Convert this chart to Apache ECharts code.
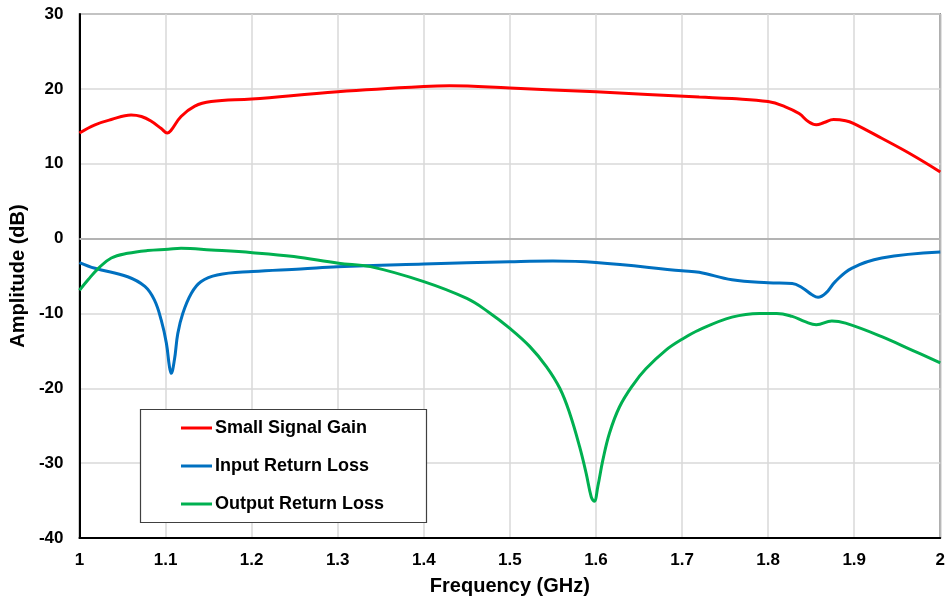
<!DOCTYPE html>
<html>
<head>
<meta charset="utf-8">
<script src="https://cdn.jsdelivr.net/npm/echarts@6/dist/echarts.min.js"></script>
<style>html,body{margin:0;padding:0;background:#fff}#c{width:948px;height:603px}</style>
</head>
<body>
<div id="c"></div>
<script>
var xTicks = [1, 1.1, 1.2, 1.3, 1.4, 1.5, 1.6, 1.7, 1.8, 1.9, 2];
var yTicks = [-40, -30, -20, -10, 0, 10, 20, 30];

var gainFreq = [1.0,1.018,1.037,1.06,1.072,1.083,1.095,1.102,1.106,1.118,1.134,1.153,1.2,1.3,1.4,1.43,1.5,1.6,1.72,1.758,1.8,1.82,1.836,1.847,1.856,1.865,1.876,1.89,1.899,1.932,1.967,2.0];
var gainVals = [14.1,15.2,15.9,16.5,16.3,15.7,14.7,14.1,14.4,16.3,17.7,18.3,18.65,19.6,20.3,20.4,20.1,19.6,18.9,18.7,18.3,17.6,16.7,15.6,15.2,15.5,15.9,15.75,15.4,13.4,11.2,8.9];

var inFreq = [1.0,1.018,1.056,1.076,1.087,1.095,1.101,1.1045,1.1065,1.1103,1.1142,1.12,1.13,1.141,1.16,1.201,1.257,1.3,1.4,1.5,1.55,1.6,1.7,1.72,1.758,1.8,1.828,1.84,1.851,1.858,1.867,1.878,1.897,1.932,2.0];
var inVals = [-3.2,-3.97,-5.1,-6.4,-8.2,-10.9,-14.0,-17.1,-18.0,-16.2,-12.7,-10.0,-7.3,-5.76,-4.86,-4.4,-4.06,-3.75,-3.4,-3.1,-3.0,-3.2,-4.3,-4.5,-5.5,-5.9,-6.0,-6.6,-7.5,-7.85,-7.3,-5.75,-3.97,-2.6,-1.8];

var outFreq = [1.0,1.01,1.022,1.037,1.056,1.079,1.103,1.118,1.153,1.201,1.249,1.301,1.338,1.4,1.45,1.475,1.5,1.523,1.5424,1.558,1.5694,1.581,1.5887,1.5945,1.598,1.6022,1.608,1.6157,1.6273,1.6427,1.658,1.6813,1.7,1.72,1.758,1.79,1.81,1.828,1.843,1.856,1.874,1.89,1.932,1.967,2.0];
var outVals = [-6.9,-5.5,-3.97,-2.6,-1.97,-1.6,-1.43,-1.3,-1.52,-1.88,-2.4,-3.3,-3.75,-5.75,-8.0,-9.8,-12.0,-14.4,-17.1,-20.0,-23.3,-27.8,-31.4,-34.5,-35.1,-33.1,-29.6,-26.0,-22.5,-19.6,-17.4,-14.9,-13.45,-12.2,-10.5,-10.0,-10.0,-10.4,-11.1,-11.5,-11.0,-11.3,-13.1,-14.9,-16.6];

var seriesNames = ['Small Signal Gain', 'Input Return Loss', 'Output Return Loss'];

function pairs(f, v) { return f.map(function (x, i) { return [x, v[i]]; }); }

var FONT = 'Liberation Sans, Arial, sans-serif';
var chart = echarts.init(document.getElementById('c'), null, { renderer: 'canvas' });

function mkSeries(name, f, v, color, extra) {
  var s = {
    name: name, type: 'line', data: pairs(f, v), smooth: 0.4,
    symbol: 'none', showSymbol: false,
    lineStyle: { color: color, width: 3 }, itemStyle: { color: color },
    z: 2, animation: false
  };
  if (extra) Object.assign(s, extra);
  return s;
}

chart.setOption({
  backgroundColor: '#fff',
  animation: false,
  grid: { left: 79, right: 6, top: 14, bottom: 65, show: true, borderColor: '#5a5a5a', borderWidth: 1.5, containLabel: false },
  xAxis: {
    type: 'value', min: 1, max: 2, interval: 0.1,
    name: 'Frequency (GHz)', nameLocation: 'middle', nameGap: 38,
    nameTextStyle: { fontFamily: FONT, fontWeight: 'bold', fontSize: 20, color: '#000' },
    axisLine: { show: true, onZero: false, lineStyle: { color: '#000', width: 2 } },
    axisTick: { show: false },
    axisLabel: { fontFamily: FONT, fontWeight: 'bold', fontSize: 17, color: '#000', margin: 14,
      formatter: function (v) { return String(Math.round(v * 10) / 10); } },
    splitLine: { show: true, lineStyle: { color: '#d9d9d9', width: 1.5 } }
  },
  yAxis: {
    type: 'value', min: -40, max: 30, interval: 10,
    name: 'Amplitude (dB)', nameLocation: 'middle', nameGap: 46,
    nameTextStyle: { fontFamily: FONT, fontWeight: 'bold', fontSize: 20, color: '#000' },
    axisLine: { show: true, onZero: false, lineStyle: { color: '#000', width: 2 } },
    axisTick: { show: false },
    axisLabel: { fontFamily: FONT, fontWeight: 'bold', fontSize: 17, color: '#000', margin: 16 },
    splitLine: { show: true, lineStyle: { color: '#d9d9d9', width: 1.5 } }
  },
  legend: {
    orient: 'vertical', left: 181, top: 419, itemGap: 20, itemWidth: 31, itemHeight: 3,
    icon: 'rect', padding: 0, z: 5,
    textStyle: { fontFamily: FONT, fontWeight: 'bold', fontSize: 18, color: '#000', padding: [0, 0, 0, -2] },
    data: seriesNames
  },
  graphic: [{
    type: 'rect', z: 4, silent: true,
    shape: { x: 140.5, y: 409.5, width: 286, height: 113 },
    style: { fill: '#fff', stroke: '#404040', lineWidth: 1.2 }
  }],
  series: [
    mkSeries(seriesNames[0], gainFreq, gainVals, '#ff0000', {
      markLine: { silent: true, symbol: 'none', label: { show: false },
        lineStyle: { color: '#b3b3b3', width: 2, type: 'solid' }, data: [{ yAxis: 0 }] }
    }),
    mkSeries(seriesNames[1], inFreq, inVals, '#0070c0'),
    mkSeries(seriesNames[2], outFreq, outVals, '#00b050')
  ]
});
</script>
</body>
</html>
